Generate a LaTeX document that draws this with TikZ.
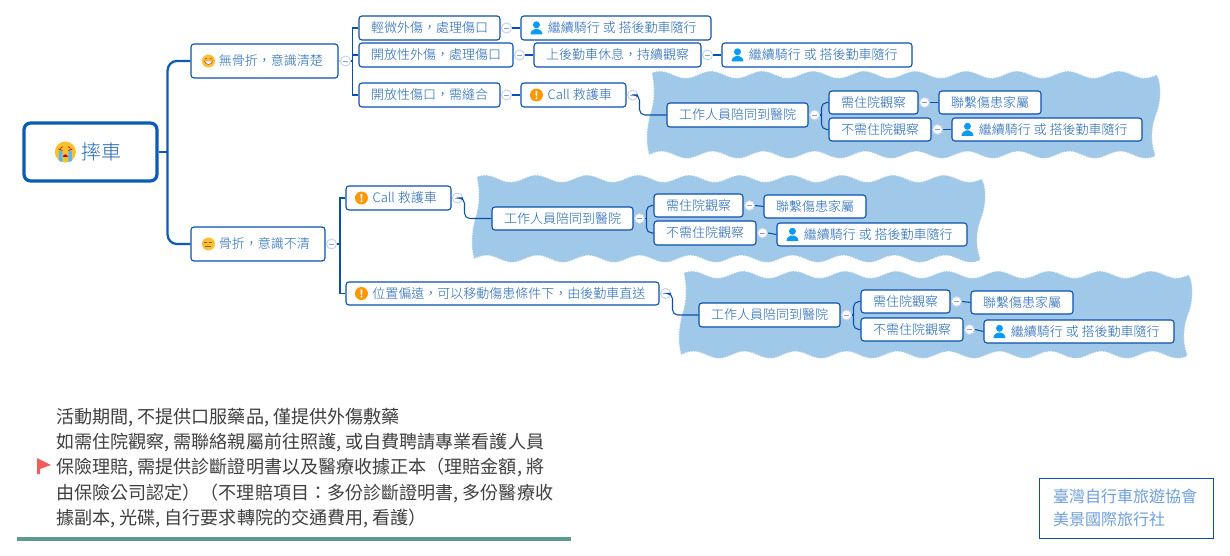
\documentclass[tikz,border=0pt]{standalone}
\usepackage{fontspec}
\setmainfont{Noto Sans CJK TC}
\newfontfamily\nodefont{Noto Sans CJK TC Light}
\usetikzlibrary{calc}
\definecolor{edgeblue}{HTML}{0B4FAE}
\definecolor{rootblue}{HTML}{0A5CB8}
\definecolor{txtblue}{HTML}{1F64B6}
\definecolor{cloudblue}{HTML}{A0C8E8}
\definecolor{mkline}{HTML}{C2D0F0}
\definecolor{mkdash}{HTML}{8FA0C0}
\definecolor{footblue}{HTML}{6E9FD8}
\definecolor{ruleteal}{HTML}{5F9A90}
\definecolor{smile}{HTML}{FBC02D}
\definecolor{personblue}{HTML}{0A9BF5}
\definecolor{warnorange}{HTML}{FF9800}
\definecolor{flagred}{HTML}{F25C5C}
\tikzset{
  nb/.style={draw=edgeblue,line width=0.8pt,fill=white,rounded corners=2.2pt,inner sep=0pt,
    text=txtblue,font=\nodefont\fontsize{9.75pt}{11pt}\selectfont,align=center},
  rootnode/.style={nb,draw=rootblue,line width=2.4pt,rounded corners=5pt,font=\nodefont\fontsize{15pt}{17pt}\selectfont},
  mk/.style={circle,draw=mkline,fill=white,line width=0.7pt,minimum size=7.5pt,inner sep=0pt,
    path picture={\draw[mkdash,line width=0.6pt] ($(path picture bounding box.center)+(-2pt,0)$) -- ($(path picture bounding box.center)+(2pt,0)$);}},
  conn/.style={draw=edgeblue,line width=0.8pt},
  rconn/.style={conn,rounded corners=4pt},
  lconn/.style={draw=mkline,line width=0.8pt},
  bigconn/.style={draw=rootblue,line width=1.7pt},
  warnicon/.pic={\fill[warnorange] (0,0) circle (6.5);
    \fill[white] (-1,-4) -- (1,-4) -- (0.6,1.5) -- (-0.6,1.5) -- cycle;
    \fill[white] (0,3.3) circle (1.1);},
  personicon/.pic={\fill[personblue] (0,-3.2) circle (3.5);
    \fill[personblue] (-6,6.5) .. controls (-6,2.5) and (-3,2) .. (-1.5,1) -- (1.5,1) .. controls (3,2) and (6,2.5) .. (6,6.5) -- cycle;},
  grinicon/.pic={\fill[smile] (0,0) circle (6.5);
    \fill[white,draw=red!60!black,line width=0.25pt] (-4,0) -- (4,0) .. controls (3.5,4.5) and (-3.5,4.5) .. (-4,0) -- cycle;
    \draw[brown!70!black,line width=0.5pt] (-3.8,-2) -- (-1.3,-2.5) (3.8,-2) -- (1.3,-2.5);},
  flaticon/.pic={\fill[smile] (0,0) circle (6.5);
    \draw[brown!70!black,line width=0.5pt] (-4,-1.5) -- (-1,-1.5) (1,-1.5) -- (4,-1.5) (-3,2.2) -- (3,2.2);},
  cryicon/.pic={\fill[smile] (0,0) circle (10.5);
    \fill[personblue!70!white] (-6.5,-1) -- (-3,-1) -- (-3,10) -- (-6.5,9) -- cycle;
    \fill[personblue!70!white] (6.5,-1) -- (3,-1) -- (3,10) -- (6.5,9) -- cycle;
    \draw[red!70!black,line width=0.5pt] (-7,-3) -- (-3,-1.5) (7,-3) -- (3,-1.5) (-3,-5.5) -- (-5,-3.5) (3,-5.5) -- (5,-3.5);
    \fill[red!70!black] (-2.5,5) .. controls (-2,1.5) and (2,1.5) .. (2.5,5) -- cycle;},
}
\newcommand{\bx}[7][]{%
  \pgfmathsetmacro\tmpw{(#5-#3)*0.75}%
  \pgfmathsetmacro\tmph{(#6-#4)*0.75}%
  \node[nb,minimum width=\tmpw pt,minimum height=\tmph pt,#1] (#2) at ({(#3+#5)/2},{(#4+#6)/2}) {\raisebox{-0.7pt}{#7}};}
\newcommand{\iconpad}{\hspace*{9.4pt}}
% cloud: origin = top-left of the wavy band
\newcommand{\wavecloud}[2]{%
  \begin{scope}[shift={(#1,#2)}]
    \path[fill=cloudblue,draw=white,line width=0.7pt,dash pattern=on 1pt off 1pt]
      plot[domain=0:505,samples=120] (\x,{-3.5*cos(7.06*(\x-8))})
      .. controls (511,12) and (508,30) .. (505,38)
      .. controls (500,50) and (498,65) .. (503,79)
      -- plot[domain=503:-3,samples=120] (\x,{80.5+3.5*cos(7.06*(\x-35))})
      .. controls (-7,68) and (-5,50) .. (-2,40)
      .. controls (2,28) and (3,15) .. (0,0) -- cycle;
  \end{scope}}
\begin{document}
\begin{tikzpicture}[x=0.75pt,y=-0.75pt]
\useasboundingbox (0,0) rectangle (1230,556);
\fill[white] (0,0) rectangle (1230,556);
\wavecloud{652}{74.5}
\wavecloud{477}{178.5}
\wavecloud{684}{274.5}

% nodes
\bx[rootnode]{root}{24}{123}{157}{181}{\hspace*{16.5pt}摔車}
\bx{A}{191}{44}{338}{78}{\iconpad 無骨折，意識清楚}
\bx{B}{191}{227}{325}{261}{\iconpad 骨折，意識不清}
\bx{aa}{359}{16}{500}{40}{輕微外傷，處理傷口}
\bx{aac}{521}{16}{711}{40}{\iconpad 繼續騎行 或 搭後勤車隨行}
\bx{ab}{359}{43}{513}{67}{開放性外傷，處理傷口}
\bx{abc}{534}{43}{701}{67}{上後勤車休息，持續觀察}
\bx{abd}{722}{43}{912}{67}{\iconpad 繼續騎行 或 搭後勤車隨行}
\bx{ac}{359}{83}{500}{107}{開放性傷口，需縫合}
\bx{acc}{521}{83}{626}{107}{\iconpad Call 救護車}
\bx{w}{667}{103}{808}{127}{工作人員陪同到醫院}
\bx{wa}{829}{91}{918}{114}{需住院觀察}
\bx{waa}{939}{91}{1041}{114}{聯繫傷患家屬}
\bx{wb}{829}{118}{931}{141}{不需住院觀察}
\bx{wbb}{952}{118}{1142}{141}{\iconpad 繼續騎行 或 搭後勤車隨行}
\bx{ba}{346}{186}{451}{210}{\iconpad Call 救護車}
\bx{x}{492}{207}{633}{230}{工作人員陪同到醫院}
\bx{xa}{654}{194}{743}{217}{需住院觀察}
\bx{xaa}{764}{195}{866}{218}{聯繫傷患家屬}
\bx{xb}{654}{221}{756}{245}{不需住院觀察}
\bx{xbb}{777}{223}{967}{246}{\iconpad 繼續騎行 或 搭後勤車隨行}
\bx{bb}{346}{282}{659}{305}{\iconpad 位置偏遠，可以移動傷患條件下，由後勤車直送}
\bx{y}{699}{303}{840}{327}{工作人員陪同到醫院}
\bx{ya}{861}{290}{950}{313}{需住院觀察}
\bx{yaa}{971}{291}{1073}{314}{聯繫傷患家屬}
\bx{yb}{861}{318}{963}{341}{不需住院觀察}
\bx{ybb}{984}{320}{1174}{343}{\iconpad 繼續騎行 或 搭後勤車隨行}

% icons
\pic at ($(root.west)+(43,0)$) {cryicon};
\pic at ($(A.west)+(18,0)$) {grinicon};
\pic at ($(B.west)+(18,0)$) {flaticon};
\foreach \n in {aac,abd,wbb,xbb,ybb} {\pic at ($(\n.west)+(16,0)$) {personicon};}
\foreach \n in {acc,ba,bb} {\pic at ($(\n.west)+(16,0)$) {warnicon};}

% root connectors
\coordinate (sr) at ($(root.east)+(9,0)$);
\draw[bigconn] (root.east) -- (sr);
\draw[bigconn,rounded corners=7pt] (A.west) -| (sr) |- (B.west);

% collapse markers
\foreach \n/\d in {A/7,B/6,aa/6,ab/6,abc/6,ac/6,acc/6,w/6,wa/6,wb/6,ba/6,x/6,xa/6,xb/6,bb/6,y/6,ya/6,yb/6}{
  \node[mk] (m\n) at ($(\n.east)+(\d,0)$) {};}

% thin stubs node to marker
\foreach \n in {A,B,aa,ab,abc,ac,acc,w,wa,wb,ba,x,xa,xb,bb,y,ya,yb}{
  \draw[lconn] (\n.east) -- (m\n.west);}

% level 2 fans with square corners
\coordinate (sa) at ($(mA.east)+(1.5,0)$);
\draw[conn] (mA.east) -- (sa);
\draw[conn] (aa.west) -| (sa) |- (ac.west);
\draw[conn] (sa) |- (ab.west);
\coordinate (sb) at ($(mB.east)+(3,0)$);
\draw[conn] (mB.east) -- (sb);
\draw[conn] (ba.west) -| (sb) |- (bb.west);

% straight connectors through markers
\foreach \p/\c in {aa/aac,ab/abc,abc/abd,ac/acc,wa/waa,wb/wbb,xa/xaa,xb/xbb,ya/yaa,yb/ybb}{
  \draw[conn] (m\p.east) to[out=0,in=180] (\c.west);}

% elbows to the clouds' first node
\foreach \p/\c in {acc/w,ba/x,bb/y}{
  \draw[rconn] (m\p.east) -- ++(1.5,0) |- (\c.west);}

% forks inside the clouds
\foreach \p/\pa/\pb in {w/wa/wb,x/xa/xb,y/ya/yb}{
  \coordinate (s\p) at ($(m\p.east)+(1.5,0)$);
  \draw[conn] (m\p.east) -- (s\p);
  \draw[rconn] (\pa.west) -| (s\p) |- (\pb.west);}

% note
\node[anchor=north west,inner sep=0pt,text=black!75,align=left,
  font=\fontsize{13.55pt}{19pt}\selectfont] (note) at (56,407.5)
 {活動期間, 不提供口服藥品, 僅提供外傷敷藥\\
  如需住院觀察, 需聯絡親屬前往照護, 或自費聘請專業看護人員\\
  保險理賠, 需提供診斷證明書以及醫療收據正本（理賠金額, 將\\
  由保險公司認定）（不理賠項目：多份診斷證明書, 多份醫療收\\
  據副本, 光碟, 自行要求轉院的交通費用, 看護）};
\fill[flagred] (37,458) -- (51,465) -- (40,469) -- (40,474) -- (37,474) -- cycle;
\fill[ruleteal] (17,536.5) rectangle (571,540.5);

% footer box
\node[draw=edgeblue,line width=0.75pt,fill=white,minimum width=130.5pt,minimum height=45pt,
  inner sep=0pt,inner xsep=10.5pt,text width=109.5pt,align=left,text=footblue,
  font=\fontsize{12pt}{17pt}\selectfont] (foot) at (1126,508)
 {臺灣自行車旅遊協會\\美景國際旅行社};
\end{tikzpicture}
\end{document}
